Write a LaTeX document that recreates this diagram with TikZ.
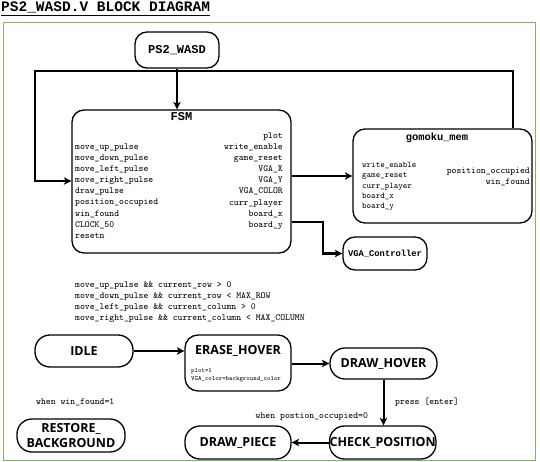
\documentclass[tikz,border=0pt]{standalone}
\usepackage{fontspec}
\newfontfamily\titlemono{Liberation Mono}
\newfontfamily\statefont{Open Sans}
\usetikzlibrary{arrows.meta}
\definecolor{frameGreen}{HTML}{82B366}
\begin{document}
\begin{tikzpicture}[x=1bp,y=-1bp,
  box/.style={draw, line width=1.3bp, rounded corners=#1, inner sep=0pt},
  box/.default=11bp,
  conn/.style={line width=2bp, -{Stealth[length=7.5bp,width=7.5bp,inset=2bp]}},
  blocktitle/.style={inner sep=0pt, font=\titlemono\bfseries\fontsize{#1}{#1}\selectfont},
  statetitle/.style={inner sep=0pt, align=center, font=\statefont\bfseries\fontsize{12.5bp}{14.5bp}\selectfont},
  lbl/.style={inner sep=0pt, font=\ttfamily\fontsize{#1}{#1}\selectfont},
  lbl/.default=9.3bp]
\useasboundingbox (0,0) rectangle (540,462);
% frame
\draw[frameGreen, line width=1bp] (3.5,22.5) rectangle (535,460);
% heading
\node[inner sep=0pt, anchor=base west, font=\titlemono\bfseries\fontsize{14.5bp}{16bp}\selectfont] (heading) at (1,12) {\underline{PS2\_WASD.V BLOCK DIAGRAM}};
% blocks
\node[box=12bp, minimum width=84bp, minimum height=36bp, blocktitle=12bp] (ps2) at (177,50) {PS2\_WASD};
\node[box=12bp, minimum width=219bp, minimum height=143bp] (fsm) at (181.5,181.5) {};
\node[blocktitle=12bp, anchor=base] (fsmt) at (181.5,121) {FSM};
\node[box=12bp, minimum width=179bp, minimum height=94bp] (gomoku) at (442.5,176) {};
\node[blocktitle=10.4bp, anchor=base] (gomokut) at (437,141) {gomoku\_mem};
\node[box=12bp, minimum width=84bp, minimum height=33bp, blocktitle=8.8bp] (vga) at (385,253.5) {VGA\_Controller};
% FSM labels
\foreach \t [count=\i] in {move\_up\_pulse,move\_down\_pulse,move\_left\_pulse,move\_right\_pulse,draw\_pulse,position\_occupied,win\_found,CLOCK\_50,resetn}
  \node[lbl, anchor=base west] (fl\i) at (75,{149.5+11.1*(\i-1)}) {\t};
\foreach \t [count=\i] in {plot,write\_enable,game\_reset,VGA\_X,VGA\_Y,VGA\_COLOR,curr\_player,board\_x,board\_y}
  \node[lbl, anchor=base east] (fr\i) at (283,{138.5+11.1*(\i-1)}) {\t};
% gomoku labels
\foreach \t [count=\i] in {write\_enable,game\_reset,curr\_player,board\_x,board\_y}
  \node[lbl=8.6bp, anchor=base west] (gl\i) at (362,{167.5+10.3*(\i-1)}) {\t};
\node[lbl, anchor=base east] (gr1) at (530,173.5) {position\_occupied};
\node[lbl, anchor=base east] (gr2) at (530,184.5) {win\_found};
% conditions
\node[lbl, anchor=base west] (c1) at (75,287.5) {move\_up\_pulse \&\& current\_row > 0};
\node[lbl, anchor=base west] (c2) at (75,298.5) {move\_down\_pulse \&\& current\_row < MAX\_ROW};
\node[lbl, anchor=base west] (c3) at (75,309.5) {move\_left\_pulse \&\& current\_column > 0};
\node[lbl, anchor=base west] (c4) at (75,320.5) {move\_right\_pulse \&\& current\_column < MAX\_COLUMN};
% states
\node[box=15bp, minimum width=98bp, minimum height=32bp, statetitle] (idle) at (84,351) {IDLE};
\node[box=13bp, minimum width=106bp, minimum height=56bp] (erase) at (238,363) {};
\node[statetitle, anchor=center] (eraset) at (238,351) {ERASE\_HOVER};
\node[lbl=6.5bp, anchor=base west] (e1) at (191,372) {plot=1};
\node[lbl=6.5bp, anchor=base west] (e2) at (191,380.5) {VGA\_color=background\_color};
\node[box=15bp, minimum width=107bp, minimum height=31bp, statetitle] (drawhover) at (383.5,363.5) {DRAW\_HOVER};
\node[box=15bp, minimum width=108bp, minimum height=33bp, statetitle] (restore) at (71,435.5) {RESTORE\_\\BACKGROUND};
\node[box=15bp, minimum width=106bp, minimum height=33bp, statetitle] (drawpiece) at (238,442.5) {DRAW\_PIECE};
\node[box=15bp, minimum width=106.5bp, minimum height=33bp, statetitle] (checkpos) at (382.7,442.5) {CHECK\_POSITION};
% state labels
\node[lbl, anchor=base west] (wf) at (36,404.5) {when win\_found=1};
\node[lbl, anchor=base west] (pe) at (395,404.5) {press [enter]};
\node[lbl, anchor=base west] (po) at (255.5,418.5) {when postion\_occupied=0};
% connector coordinates
\coordinate (fbR) at (513,71);
\coordinate (fbL) at (35,71);
\coordinate (fbIn) at (35,181);
\coordinate (bend) at (323,222);
% connectors
\draw[conn] (ps2.south) -- (ps2.south |- fsm.north);
\draw[conn] (gomoku.north -| fbR) -- (fbR) -- (fbL) -- (fbIn) -- (fsm.west |- fbIn);
\draw[conn] (fsm.east |- gomoku.west) -- (gomoku.west);
\draw[conn] (fsm.east |- bend) -- (bend) |- (vga.west);
\draw[conn] (idle.east) -- (erase.west |- idle.east);
\draw[conn] (erase.east |- drawhover.west) -- (drawhover.west);
\draw[conn] (drawhover.south) -- (drawhover.south |- checkpos.north);
\draw[conn] (checkpos.west) -- (drawpiece.east);
\end{tikzpicture}
\end{document}
